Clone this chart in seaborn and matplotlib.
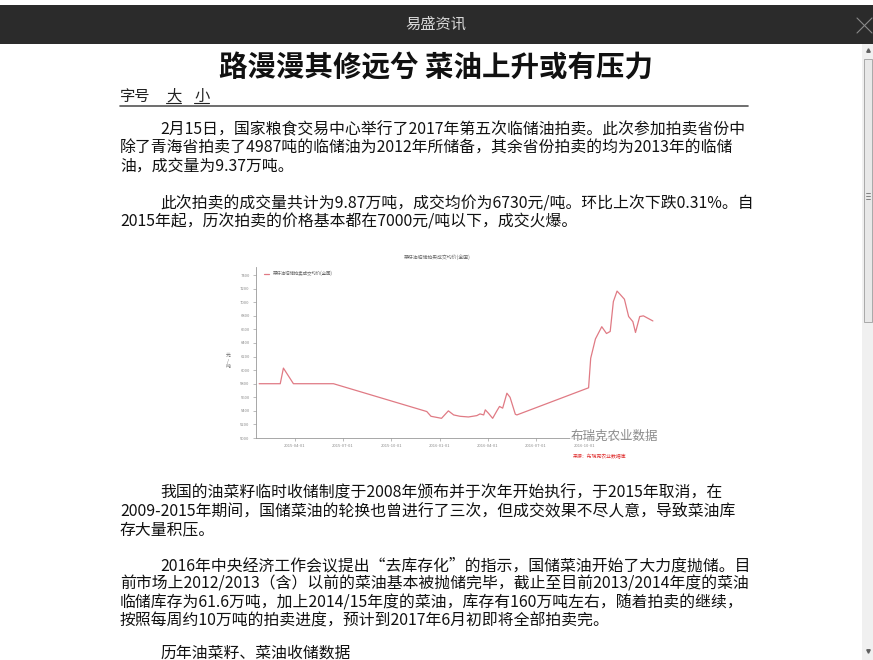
import matplotlib
matplotlib.use("Agg")
import matplotlib.pyplot as plt
import matplotlib.dates as mdates
from matplotlib.patches import Rectangle
import seaborn as sns
import pandas as pd

W, H = 873, 660

# ---- page text ----
window_title = "易盛资讯"
headline = "路漫漫其修远兮 菜油上升或有压力"
font_size_label = "字号"
font_size_opts = ["大", "小"]

paragraphs = [
    ["2月15日，国家粮食交易中心举行了2017年第五次临储油拍卖。此次参加拍卖省份中",
     "除了青海省拍卖了4987吨的临储油为2012年所储备，其余省份拍卖的均为2013年的临储",
     "油，成交量为9.37万吨。"],
    ["此次拍卖的成交量共计为9.87万吨，成交均价为6730元/吨。环比上次下跌0.31%。自",
     "2015年起，历次拍卖的价格基本都在7000元/吨以下，成交火爆。"],
    ["我国的油菜籽临时收储制度于2008年颁布并于次年开始执行，于2015年取消，在",
     "2009-2015年期间，国储菜油的轮换也曾进行了三次，但成交效果不尽人意，导致菜油库",
     "存大量积压。"],
    ["2016年中央经济工作会议提出“去库存化”的指示，国储菜油开始了大力度抛储。目",
     "前市场上2012/2013（含）以前的菜油基本被抛储完毕，截止至目前2013/2014年度的菜油",
     "临储库存为61.6万吨，加上2014/15年度的菜油，库存有160万吨左右，随着拍卖的继续，",
     "按照每周约10万吨的拍卖进度，预计到2017年6月初即将全部拍卖完。"],
    ["历年油菜籽、菜油收储数据"],
]
para_top = [130, 204, 493, 566, 653]

# ---- chart data ----
chart_title = "菜籽油临储拍卖成交均价(全国)"
series_name = "菜籽油临储拍卖成交均价(全国)"
y_label = "元\n/\n吨"
watermark = "布瑞克农业数据"
source_note = "来源：布瑞克农业数据库"

dates = ["2015-01-23", "2015-03-04", "2015-03-10", "2015-03-29", "2015-06-13",
         "2015-12-07", "2015-12-15", "2016-01-04", "2016-01-17", "2016-01-27",
         "2016-02-08", "2016-02-24", "2016-03-11", "2016-03-17", "2016-03-24",
         "2016-03-27", "2016-04-02", "2016-04-10", "2016-04-18", "2016-04-23",
         "2016-04-29", "2016-05-07", "2016-05-13", "2016-05-23", "2016-05-26",
         "2016-10-09", "2016-10-13", "2016-10-22", "2016-11-03", "2016-11-12",
         "2016-11-19", "2016-11-25", "2016-12-02", "2016-12-08", "2016-12-16",
         "2016-12-24", "2017-01-01", "2017-01-06", "2017-01-14", "2017-01-21",
         "2017-02-08"]
prices = [5800, 5800, 6030, 5800, 5800,
          5390, 5320, 5290, 5400, 5340,
          5320, 5310, 5330, 5355, 5340,
          5415, 5365, 5290, 5400, 5465,
          5440, 5660, 5600, 5350, 5340,
          5740, 6175, 6460, 6640, 6540,
          6570, 7010, 7165, 7115, 7045,
          6790, 6715, 6555, 6790, 6800,
          6725]
x_ticks = ["2015-04-01", "2015-07-01", "2015-10-01", "2016-01-01", "2016-04-01",
           "2016-07-01", "2016-10-01"]
y_ticks = [5000, 5200, 5400, 5600, 5800, 6000, 6200, 6400, 6600, 6800, 7000, 7200, 7400]


def fx(x):
    return x / W


def fy(y):
    return 1 - y / H


sns.set_theme(style="white")
plt.rcParams['font.family'] = ['Noto Sans CJK SC', 'DejaVu Sans']

fig = plt.figure(figsize=(W / 100, H / 100), dpi=100)
fig.patch.set_facecolor("white")

# page background drawn in pixel coordinates
bg = fig.add_axes([0, 0, 1, 1])
bg.set_xlim(0, W)
bg.set_ylim(H, 0)
bg.axis("off")

# window title bar
bg.add_patch(Rectangle((0, 5), W, 39, facecolor="#2b2b2b", edgecolor="none"))
bg.text(436, 24, window_title, ha="center", va="center", fontsize=11, color="#d8d8d8")
bg.plot([857, 872], [18, 33], color="#8a8a8a", lw=0.8)
bg.plot([872, 857], [18, 33], color="#8a8a8a", lw=0.8)

# scrollbar
bg.add_patch(Rectangle((862, 44), 11, 616, facecolor="#f0f0f0", edgecolor="none"))
bg.add_patch(Rectangle((863.5, 59), 8.5, 263, facecolor="#e8e8e8", edgecolor="#a8a8a8", lw=0.7))
bg.plot([867.5], [50], marker="^", ms=2.5, color="#606060")
bg.plot([867.5], [651], marker="v", ms=2.5, color="#606060")
for gy in [193, 196, 199]:
    bg.plot([865.5, 870], [gy, gy], color="#707070", lw=0.6)

# headline and font size controls
bg.text(436, 68, headline, ha="center", va="center", fontsize=20.5, fontweight="bold", color="#111111")
bg.text(120, 96, font_size_label, ha="left", va="center", fontsize=11, color="#222222")
for i, opt in enumerate(font_size_opts):
    ox = 166 + i * 28
    bg.text(ox, 96, opt, ha="left", va="center", fontsize=11, color="#222222")
    bg.plot([ox, ox + 15], [103, 103], color="#222222", lw=0.8)
bg.plot([120, 748], [106, 106], color="#555555", lw=1.2)

# article paragraphs
for top, lines in zip(para_top, paragraphs):
    for j, line in enumerate(lines):
        x0 = 160 if j == 0 else 120
        bg.text(x0, top + j * 18.3, line, ha="left", va="center", fontsize=11.4, color="#111111")

# ---- embedded chart ----
df = pd.DataFrame({"date": pd.to_datetime(dates), "price": prices})

ax = fig.add_axes([fx(256), fy(438), (655 - 256) / W, (438 - 267) / H])
ax.set_facecolor("white")
sns.lineplot(data=df, x="date", y="price", ax=ax, color="#e07a84", lw=0.9, label=series_name)

ax.set_xlim(pd.Timestamp("2015-01-17"), pd.Timestamp("2017-02-12"))
ax.set_ylim(5000, 7520)
ax.set_yticks(y_ticks)
ax.set_xticks(pd.to_datetime(x_ticks))
ax.xaxis.set_major_formatter(mdates.DateFormatter("%Y-%m-%d"))
ax.tick_params(axis="both", labelsize=3, colors="#8a8a8a", length=2.5, width=0.4, pad=2,
               bottom=True, left=True)
for side in ["top", "right"]:
    ax.spines[side].set_visible(False)
for side in ["left", "bottom"]:
    ax.spines[side].set_color("#999999")
    ax.spines[side].set_linewidth(0.6)
ax.set_xlabel("")
ax.set_ylabel(y_label, rotation=0, fontsize=3.5, color="#666666", labelpad=8, va="center")
ax.yaxis.set_label_coords(-0.07, 0.45)
leg = ax.legend(loc="upper left", frameon=False, fontsize=3.2, handlelength=1.2,
                bbox_to_anchor=(0.01, 1.0), labelcolor="#666666")
fig.text(fx(437), fy(257), chart_title, ha="center", va="center", fontsize=3.5, color="#666666")

# watermark and source
fig.text(fx(614), fy(436), watermark, ha="center", va="center", fontsize=9, color="#8c8c8c",
         bbox=dict(facecolor="white", edgecolor="none", alpha=0.7, pad=0.0))
fig.text(fx(600), fy(457), source_note, ha="center", va="center", fontsize=3.5, color="#e03030")

fig.savefig("out.png", dpi=100)
